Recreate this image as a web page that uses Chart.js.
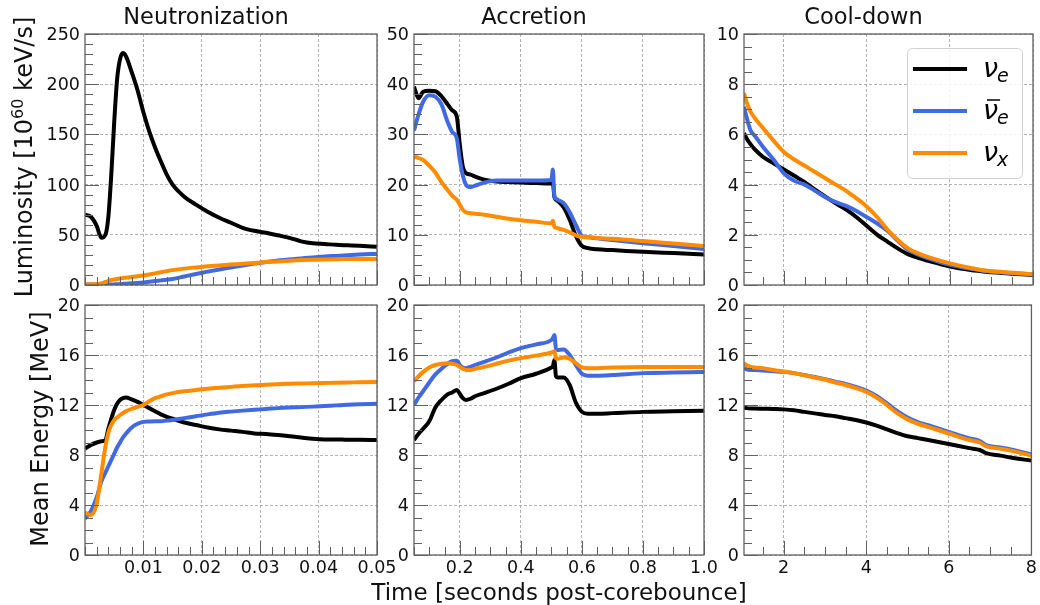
<!DOCTYPE html>
<html>
<head>
<meta charset="utf-8">
<title>Neutrino luminosity and mean energy</title>
<script src="https://cdn.jsdelivr.net/npm/chart.js@4.4.1/dist/chart.umd.min.js"></script>
<style>
  body { margin: 0; background: #fff; }
  #wrap { position: relative; width: 1040px; height: 605px; overflow: hidden; font-family: "DejaVu Sans", sans-serif; color: #111; }
  #wrap canvas { position: absolute; left: 0; top: 0; }
  .axis-title { position: absolute; font-size: 24px; line-height: 28px; white-space: nowrap; transform: translate(-50%, -50%); }
  .axis-title.vert { transform: translate(-50%, -50%) rotate(-90deg); }
  .axis-title.horiz { font-size: 23px; }
  .axis-title sup { font-size: 16px; line-height: 0; vertical-align: baseline; position: relative; top: -9px; }
</style>
</head>
<body>
<div id="wrap">
  <canvas id="c0" width="1040" height="605"></canvas>
  <canvas id="c1" width="1040" height="605"></canvas>
  <canvas id="c2" width="1040" height="605"></canvas>
  <canvas id="c3" width="1040" height="605"></canvas>
  <canvas id="c4" width="1040" height="605"></canvas>
  <canvas id="c5" width="1040" height="605"></canvas>
  <div class="axis-title vert" style="left:24px; top:157px;">Luminosity [10<sup>60</sup> keV/s]</div>
  <div class="axis-title vert" style="left:40px; top:429px;">Mean Energy [MeV]</div>
  <div class="axis-title horiz" style="left:559px; top:592px;">Time [seconds post-corebounce]</div>
</div>
<script>
// ---- data -------------------------------------------------------------
const phaseTitles = ['Neutronization', 'Accretion', 'Cool-down'];

// time samples per phase [s after core bounce]
const neutTime = [0, 0.001, 0.002, 0.0028, 0.0035, 0.004, 0.0045, 0.005, 0.0055, 0.006,
  0.0065, 0.007, 0.008, 0.009, 0.010, 0.011, 0.012, 0.013, 0.014, 0.015,
  0.017, 0.019, 0.021, 0.023, 0.025, 0.027, 0.029, 0.031, 0.033, 0.035,
  0.037, 0.039, 0.041, 0.043, 0.045, 0.047, 0.050];
const accrTime = [0.05, 0.065, 0.08, 0.1, 0.12, 0.14, 0.16, 0.175, 0.19, 0.2,
  0.21, 0.22, 0.235, 0.25, 0.28, 0.32, 0.36, 0.4, 0.45, 0.5,
  0.505, 0.51, 0.515, 0.52, 0.54, 0.56, 0.58, 0.6, 0.62, 0.65,
  0.7, 0.8, 0.9, 1.0];
const coolTime = [1.04, 1.1, 1.2, 1.3, 1.5, 1.75, 2.0, 2.25, 2.5, 2.75,
  3.0, 3.25, 3.5, 3.75, 4.0, 4.25, 4.5, 4.75, 5.0, 5.25,
  5.5, 6.0, 6.5, 6.75, 6.9, 7.25, 7.5, 8.0];

// luminosity [10^60 keV/s]
const neutLumE = [70, 68, 59, 47, 50, 68, 110, 162, 205, 225,
  231, 228, 212, 194, 172, 153, 137, 123, 110, 100,
  88, 80, 73, 67, 62, 57, 54, 52, 49.5, 47,
  43.5, 41.5, 40.8, 40, 39.5, 39, 38];
const neutLumEbar = [0.5, 0.5, 0.5, 0.5, 0.5, 0.5, 0.5, 0.6, 0.7, 0.9,
  1.1, 1.3, 1.7, 2.1, 2.6, 3.2, 3.9, 4.6, 5.3, 6.0,
  8.5, 11, 13.3, 15.5, 17.5, 19.5, 21.3, 23, 24.3, 25.5,
  26.5, 27.5, 28.3, 29, 29.7, 30.3, 31];
const neutLumX = [0.8, 0.8, 0.8, 1.5, 3, 4, 5, 5.5, 6, 6.5,
  7, 7.3, 8, 8.7, 9.5, 10.5, 11.6, 12.7, 13.8, 14.8,
  16.3, 17.5, 18.6, 19.5, 20.3, 21.2, 22, 22.8, 23.5, 24.2,
  24.8, 25.2, 25.5, 25.7, 25.8, 25.9, 26];

const accrLumE = [39.5, 37.2, 38.5, 38.7, 38.6, 37.6, 36, 34.8, 33.6, 28,
  23.5, 22.3, 22, 21.6, 21, 20.6, 20.5, 20.4, 20.3, 20.2,
  20.2, 17.5, 17, 16.8, 15.5, 13, 9.8, 7.8, 7.35, 7.1,
  6.95, 6.6, 6.35, 6.1];
const accrLumEbar = [30.8, 34, 36.5, 37.8, 37.5, 36, 32.5, 30.5, 29.3, 25,
  21.8, 20, 19.5, 19.8, 20.4, 20.8, 20.8, 20.8, 20.8, 20.9,
  23, 17.5, 17.2, 17, 16.3, 14.5, 12, 9.8, 9.5, 9.3,
  8.95, 8.3, 7.75, 7.15];
const accrLumX = [25.6, 25.3, 24.9, 23.8, 22.4, 20.5, 18.9, 17.8, 17.0, 16.0,
  15.0, 14.5, 14.3, 14.2, 14.0, 13.6, 13.2, 12.9, 12.6, 12.3,
  12.8, 11.6, 11.4, 11.3, 11.0, 10.5, 9.9, 9.6, 9.5, 9.35,
  9.2, 8.75, 8.25, 7.75];

const coolLumE = [6.05, 5.85, 5.6, 5.4, 5.1, 4.85, 4.6, 4.35, 4.1, 3.8,
  3.52, 3.25, 3.0, 2.7, 2.35, 2.0, 1.72, 1.45, 1.22, 1.07,
  0.95, 0.74, 0.6, 0.55, 0.52, 0.48, 0.45, 0.4];
const coolLumEbar = [7.1, 6.7, 6.15, 5.95, 5.5, 5.0, 4.45, 4.15, 4.0, 3.75,
  3.5, 3.3, 3.15, 2.95, 2.7, 2.45, 2.15, 1.75, 1.4, 1.2,
  1.05, 0.8, 0.65, 0.58, 0.55, 0.5, 0.47, 0.42];
const coolLumX = [7.65, 7.3, 6.9, 6.65, 6.25, 5.75, 5.3, 5.0, 4.75, 4.5,
  4.25, 4.0, 3.75, 3.45, 3.12, 2.7, 2.2, 1.78, 1.45, 1.25,
  1.1, 0.86, 0.68, 0.6, 0.57, 0.52, 0.49, 0.43];

// mean energy [MeV]
const neutEnE = [8.5, 8.8, 9.0, 9.1, 9.2, 10.1, 10.9, 11.6, 12.1, 12.4,
  12.55, 12.6, 12.45, 12.25, 12.0, 11.75, 11.5, 11.25, 11.05, 10.9,
  10.6, 10.4, 10.2, 10.05, 9.95, 9.85, 9.72, 9.68, 9.6, 9.5,
  9.4, 9.3, 9.25, 9.25, 9.22, 9.22, 9.2];
const neutEnEbar = [2.9, 3.5, 4.6, 5.9, 6.6, 7.1, 7.6, 8.1, 8.6, 9.0,
  9.4, 9.7, 10.2, 10.5, 10.65, 10.68, 10.7, 10.7, 10.75, 10.8,
  10.95, 11.1, 11.25, 11.38, 11.47, 11.55, 11.62, 11.68, 11.75, 11.8,
  11.83, 11.87, 11.92, 11.97, 12.02, 12.06, 12.1];
const neutEnX = [3.4, 3.2, 4.1, 6.5, 8.7, 9.8, 10.4, 10.8, 11.0, 11.2,
  11.35, 11.5, 11.7, 11.85, 12.0, 12.3, 12.55, 12.7, 12.85, 12.95,
  13.1, 13.2, 13.3, 13.38, 13.45, 13.52, 13.58, 13.62, 13.66, 13.7,
  13.72, 13.74, 13.76, 13.78, 13.8, 13.82, 13.85];

const accrEnE = [9.2, 9.7, 10.1, 10.7, 11.8, 12.4, 12.85, 13.0, 13.2, 12.9,
  12.55, 12.4, 12.5, 12.7, 12.95, 13.3, 13.7, 14.15, 14.5, 15.0,
  15.1, 15.6, 14.3, 14.2, 14.2, 13.6, 12.2, 11.45, 11.3, 11.3,
  11.35, 11.45, 11.5, 11.55];
const accrEnEbar = [12.0, 12.6, 13.1, 13.8, 14.45, 14.9, 15.3, 15.5, 15.55, 15.2,
  15.0, 14.95, 15.05, 15.2, 15.45, 15.8, 16.2, 16.55, 16.85, 17.2,
  17.35, 17.6, 16.5, 16.4, 16.45, 16.0, 15.2, 14.5, 14.35, 14.35,
  14.4, 14.55, 14.6, 14.65];
const accrEnX = [13.9, 14.3, 14.65, 15.0, 15.2, 15.3, 15.35, 15.3, 15.2, 15.05,
  14.9, 14.8, 14.8, 14.9, 15.05, 15.3, 15.55, 15.75, 15.95, 16.2,
  16.25, 16.3, 15.75, 15.7, 15.8, 15.7, 15.35, 15.0, 14.95, 14.95,
  15.0, 15.05, 15.05, 15.05];

const coolEnE = [11.8, 11.75, 11.72, 11.72, 11.7, 11.68, 11.65, 11.58, 11.45, 11.33,
  11.2, 11.1, 10.95, 10.8, 10.6, 10.35, 10.05, 9.75, 9.5, 9.35,
  9.2, 8.88, 8.55, 8.4, 8.15, 7.95, 7.8, 7.55];
const coolEnEbar = [15.0, 14.85, 14.8, 14.8, 14.75, 14.7, 14.65, 14.55, 14.4, 14.25,
  14.07, 13.87, 13.68, 13.44, 13.15, 12.72, 12.13, 11.5, 11.0, 10.64,
  10.38, 9.85, 9.32, 9.12, 8.8, 8.6, 8.45, 8.05];
const coolEnX = [15.35, 15.2, 15.05, 15.0, 14.95, 14.8, 14.68, 14.55, 14.38, 14.2,
  14.02, 13.8, 13.6, 13.35, 13.05, 12.6, 12.0, 11.35, 10.85, 10.5,
  10.25, 9.72, 9.2, 9.0, 8.7, 8.5, 8.35, 7.95];

// tick labels
const neutTicks = [0.01, 0.02, 0.03, 0.04, 0.05];
const accrTicks = [0.2, 0.4, 0.6, 0.8, 1.0];
const coolTicks = [2, 4, 6, 8];
const neutLumTicks = [0, 50, 100, 150, 200, 250];
const accrLumTicks = [0, 10, 20, 30, 40, 50];
const coolLumTicks = [0, 2, 4, 6, 8, 10];
const energyTicks = [0, 4, 8, 12, 16, 20];

// legend text: symbol, subscript, antiparticle bar
const legendBase = ['\u03bd', '\u03bd', '\u03bd'];
const legendSub = ['e', 'e', 'x'];
const legendBar = [false, true, false];

// ---- drawing ----------------------------------------------------------
const COLORS = ['#000000', '#4169e1', '#ff8c00'];
const FRAME = '#606060';
const GRID = '#a0a0a0';
const AXIS_W = 50;   // room kept for the y tick labels
const AXIS_H = 30;   // room kept for the x tick labels
const TITLE_SIZE = 22.5;
const TITLE_H = TITLE_SIZE * 1.2 + 2;

const colBox = [{ left: 85, right: 377 }, { left: 414, right: 704 }, { left: 744, right: 1033 }];
const rowBox = [{ top: 34, bottom: 285 }, { top: 305, bottom: 555 }];

Chart.defaults.font.family = '"DejaVu Sans", sans-serif';
Chart.defaults.color = '#111';

// minor tick positions between scale.min and scale.max, flagged when they hit a labelled tick
function tickMarks(scale, step) {
  const out = [];
  const first = Math.ceil(scale.min / step - 1e-6);
  const last = Math.floor(scale.max / step + 1e-6);
  for (let k = first; k <= last; k++) {
    const v = k * step;
    out.push({ v: v, major: scale.ticks.some(t => Math.abs(t.value - v) < step * 1e-3) });
  }
  return out;
}

// inward tick marks and the closed box around each panel
const frameTicks = {
  id: 'frameTicks',
  afterDatasetsDraw(chart, args, opts) {
    const ctx = chart.ctx, a = chart.chartArea;
    const xs = chart.scales.x, ys = chart.scales.y;
    ctx.save();
    ctx.strokeStyle = FRAME;
    ctx.lineWidth = 1;
    tickMarks(xs, opts.xMinor).forEach(t => {
      const px = Math.round(xs.getPixelForValue(t.v)) + 0.5;
      ctx.beginPath();
      ctx.moveTo(px, a.bottom);
      ctx.lineTo(px, a.bottom - (t.major ? 14 : 8));
      ctx.stroke();
    });
    tickMarks(ys, opts.yMinor).forEach(t => {
      const py = Math.round(ys.getPixelForValue(t.v)) + 0.5;
      ctx.beginPath();
      ctx.moveTo(a.left, py);
      ctx.lineTo(a.left + (t.major ? 14 : 8), py);
      ctx.stroke();
    });
    ctx.lineWidth = 1.3;
    ctx.strokeRect(a.left, a.top, a.right - a.left, a.bottom - a.top);
    ctx.restore();
  }
};

// boxed legend with neutrino symbols (subscript and bar drawn by hand)
const nuLegend = {
  id: 'nuLegend',
  afterDraw(chart) {
    const ctx = chart.ctx, a = chart.chartArea;
    const w = 115, h = 130;
    const x0 = a.right - 11 - w, y0 = a.top + 14;
    ctx.save();
    ctx.fillStyle = 'rgba(255,255,255,0.85)';
    ctx.strokeStyle = '#d0d0d0';
    ctx.lineWidth = 1;
    ctx.beginPath();
    ctx.roundRect(x0 + 0.5, y0 + 0.5, w, h, 5);
    ctx.fill();
    ctx.stroke();
    chart.data.datasets.forEach((ds, i) => {
      const ly = y0 + 21 + i * 42;
      ctx.strokeStyle = ds.borderColor;
      ctx.lineWidth = 4;
      ctx.beginPath();
      ctx.moveTo(x0 + 6, ly);
      ctx.lineTo(x0 + 60, ly);
      ctx.stroke();

      const tx = x0 + 76;
      ctx.fillStyle = '#000';
      ctx.textBaseline = 'alphabetic';
      ctx.textAlign = 'left';
      ctx.font = 'italic 27px "DejaVu Sans"';
      ctx.fillText(legendBase[i], tx, ly + 8);
      const nw = ctx.measureText(legendBase[i]).width;
      if (legendBar[i]) {
        ctx.strokeStyle = '#000';
        ctx.lineWidth = 1.5;
        ctx.beginPath();
        ctx.moveTo(tx + 4, ly - 11);
        ctx.lineTo(tx + nw + 2, ly - 11);
        ctx.stroke();
      }
      ctx.font = 'italic 19px "DejaVu Sans"';
      ctx.fillText(legendSub[i], tx + nw - 1, ly + 13);
    });
    ctx.restore();
  }
};

function series(label, time, values, color, order) {
  return {
    label: label,
    order: order,
    data: time.map((t, i) => ({ x: t, y: values[i] })),
    borderColor: color,
    backgroundColor: color,
    borderWidth: 4,
    pointRadius: 0,
    fill: false,
    cubicInterpolationMode: 'monotone',
    borderJoinStyle: 'round',
    clip: 0
  };
}

function makePanel(p) {
  const box = {
    left: colBox[p.col].left, right: colBox[p.col].right,
    top: rowBox[p.row].top, bottom: rowBox[p.row].bottom
  };
  const topRow = p.row === 0;
  const tickFont = { size: 17.5 };

  return new Chart(document.getElementById(p.id), {
    type: 'line',
    data: {
      datasets: [
        series('\u03bde', p.time, p.e, COLORS[0], 2),
        series('\u03bd\u0304e', p.time, p.ebar, COLORS[1], 1),
        series('\u03bdx', p.time, p.x, COLORS[2], 0)
      ]
    },
    plugins: p.legend ? [frameTicks, nuLegend] : [frameTicks],
    options: {
      responsive: false,
      animation: false,
      events: [],
      layout: {
        padding: {
          left: box.left - AXIS_W,
          right: 1040 - box.right,
          top: topRow ? box.top - TITLE_H : box.top,
          bottom: 605 - box.bottom - AXIS_H
        }
      },
      plugins: {
        legend: { display: false },
        tooltip: { enabled: false },
        title: {
          display: topRow,
          text: p.title,
          color: '#111',
          font: { size: TITLE_SIZE, weight: 'normal', lineHeight: 1.2 },
          padding: { top: 0, bottom: 2 }
        },
        frameTicks: { xMinor: p.xMinor, yMinor: p.yMinor }
      },
      scales: {
        x: {
          type: 'linear',
          min: p.xMin,
          max: p.xMax,
          afterBuildTicks: s => { s.ticks = p.xTicks.map(v => ({ value: v })); },
          afterFit: s => { s.height = AXIS_H; },
          ticks: {
            display: !topRow,
            autoSkip: false,
            maxRotation: 0,
            padding: 3,
            font: tickFont,
            callback: v => v.toFixed(p.xDigits)
          },
          grid: { color: GRID, lineWidth: 0.8, drawTicks: false },
          border: { display: false, dash: [3, 2] }
        },
        y: {
          min: p.yTicks[0],
          max: p.yTicks[p.yTicks.length - 1],
          afterBuildTicks: s => { s.ticks = p.yTicks.map(v => ({ value: v })); },
          afterFit: s => { s.width = AXIS_W; },
          ticks: {
            autoSkip: false,
            padding: 5,
            labelOffset: 1.5,
            font: tickFont,
            callback: v => String(v)
          },
          grid: { color: GRID, lineWidth: 0.8, drawTicks: false },
          border: { display: false, dash: [3, 2] }
        }
      }
    }
  });
}

const panels = [
  { id: 'c0', row: 0, col: 0, title: phaseTitles[0], time: neutTime, e: neutLumE, ebar: neutLumEbar, x: neutLumX,
    xMin: 0, xMax: 0.05, xTicks: neutTicks, xMinor: 0.002, xDigits: 2, yTicks: neutLumTicks, yMinor: 10 },
  { id: 'c1', row: 0, col: 1, title: phaseTitles[1], time: accrTime, e: accrLumE, ebar: accrLumEbar, x: accrLumX,
    xMin: 0.05, xMax: 1.0, xTicks: accrTicks, xMinor: 0.05, xDigits: 1, yTicks: accrLumTicks, yMinor: 2 },
  { id: 'c2', row: 0, col: 2, title: phaseTitles[2], time: coolTime, e: coolLumE, ebar: coolLumEbar, x: coolLumX,
    xMin: 1.04, xMax: 8, xTicks: coolTicks, xMinor: 0.5, xDigits: 0, yTicks: coolLumTicks, yMinor: 0.5, legend: true },
  { id: 'c3', row: 1, col: 0, time: neutTime, e: neutEnE, ebar: neutEnEbar, x: neutEnX,
    xMin: 0, xMax: 0.05, xTicks: neutTicks, xMinor: 0.002, xDigits: 2, yTicks: energyTicks, yMinor: 1 },
  { id: 'c4', row: 1, col: 1, time: accrTime, e: accrEnE, ebar: accrEnEbar, x: accrEnX,
    xMin: 0.05, xMax: 1.0, xTicks: accrTicks, xMinor: 0.05, xDigits: 1, yTicks: energyTicks, yMinor: 1 },
  { id: 'c5', row: 1, col: 2, time: coolTime, e: coolEnE, ebar: coolEnEbar, x: coolEnX,
    xMin: 1.04, xMax: 8, xTicks: coolTicks, xMinor: 0.5, xDigits: 0, yTicks: energyTicks, yMinor: 1 }
];

panels.forEach(makePanel);
</script>
</body>
</html>
